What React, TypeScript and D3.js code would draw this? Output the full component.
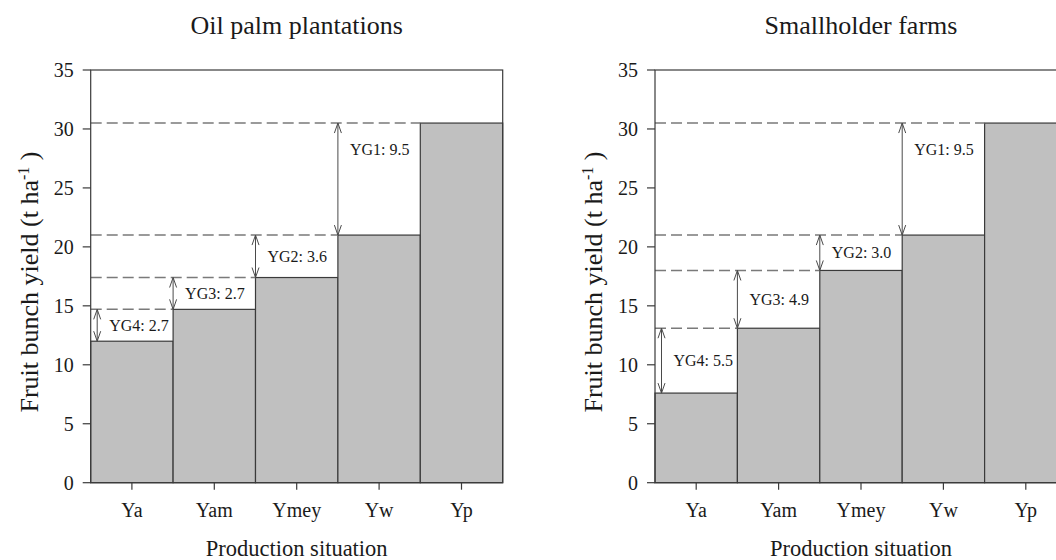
import React, { useEffect, useRef } from 'react';
import * as d3 from 'd3';

// production situations, lowest to highest
const categories = ['Ya', 'Yam', 'Ymey', 'Yw', 'Yp'];

// fruit bunch yield (t/ha) per situation
const plantationYield = [12.0, 14.7, 17.4, 21.0, 30.5];
const smallholderYield = [7.6, 13.1, 18.0, 21.0, 30.5];

// yield gap labels between neighbouring situations
const plantationGaps = ['YG4: 2.7', 'YG3: 2.7', 'YG2: 3.6', 'YG1: 9.5'];
const smallholderGaps = ['YG4: 5.5', 'YG3: 4.9', 'YG2: 3.0', 'YG1: 9.5'];

const yTicks = [0, 5, 10, 15, 20, 25, 30, 35];

const panelTitles = ['Oil palm plantations', 'Smallholder farms'];
const xTitle = 'Production situation';

const W = 1056;
const H = 560;
const font = '"Liberation Serif", "Times New Roman", serif';

function drawPanel(svg: any, left: number, title: string, values: number[], gaps: string[]) {
  const top = 70;
  const bottom = 482.7;
  const size = 412;

  const x = d3.scaleBand().domain(categories).range([left, left + size]).padding(0);
  const y = d3.scaleLinear().domain([0, 35]).range([bottom, top]);

  const g = svg.append('g');

  // bars
  g.selectAll('.bar')
    .data(values)
    .enter()
    .append('rect')
    .attr('x', (d: number, i: number) => x(categories[i]))
    .attr('y', (d: number) => y(d))
    .attr('width', x.bandwidth())
    .attr('height', (d: number) => bottom - y(d))
    .attr('fill', '#c0c0c0')
    .attr('stroke', '#3a3a3a')
    .attr('stroke-width', 1.2);

  // dashed guide at each higher level, from axis to the bar that reaches it
  g.selectAll('.guide')
    .data(values.slice(1))
    .enter()
    .append('line')
    .attr('x1', left)
    .attr('x2', (d: number, i: number) => x(categories[i + 1]))
    .attr('y1', (d: number) => y(d))
    .attr('y2', (d: number) => y(d))
    .attr('stroke', '#7a7a7a')
    .attr('stroke-width', 1.5)
    .attr('stroke-dasharray', '11,5');

  // double headed gap arrows + labels
  gaps.forEach((label, i) => {
    const ax = i === 0 ? left + 6.5 : (x(categories[i]) as number);
    const y0 = y(values[i]);
    const y1 = y(values[i + 1]);
    g.append('line')
      .attr('x1', ax).attr('x2', ax)
      .attr('y1', y1).attr('y2', y0)
      .attr('stroke', '#4a4a4a')
      .attr('stroke-width', 1);
    g.append('path')
      .attr('d', `M${ax - 3.5},${y1 + 10}L${ax},${y1}L${ax + 3.5},${y1 + 10}`)
      .attr('fill', 'none').attr('stroke', '#4a4a4a').attr('stroke-width', 1);
    g.append('path')
      .attr('d', `M${ax - 3.5},${y0 - 10}L${ax},${y0}L${ax + 3.5},${y0 - 10}`)
      .attr('fill', 'none').attr('stroke', '#4a4a4a').attr('stroke-width', 1);

    const big = values[i + 1] - values[i] > 6;
    const ly = big ? y1 + 26 : (y0 + y1) / 2;
    g.append('text')
      .attr('x', ax + 12)
      .attr('y', ly)
      .attr('dy', '0.35em')
      .attr('font-family', font)
      .attr('font-size', 16)
      .attr('fill', '#1a1a1a')
      .text(label);
  });

  // frame
  g.append('rect')
    .attr('x', left).attr('y', top)
    .attr('width', size).attr('height', bottom - top)
    .attr('fill', 'none')
    .attr('stroke', '#3a3a3a')
    .attr('stroke-width', 1.2);

  // y ticks
  g.selectAll('.ytick')
    .data(yTicks)
    .enter()
    .append('line')
    .attr('x1', left - 8).attr('x2', left)
    .attr('y1', (d: number) => y(d)).attr('y2', (d: number) => y(d))
    .attr('stroke', '#3a3a3a').attr('stroke-width', 1.2);
  g.selectAll('.ylab')
    .data(yTicks)
    .enter()
    .append('text')
    .attr('x', left - 17)
    .attr('y', (d: number) => y(d))
    .attr('dy', '0.35em')
    .attr('text-anchor', 'end')
    .attr('font-family', font)
    .attr('font-size', 20)
    .attr('fill', '#1a1a1a')
    .text((d: number) => d);

  // x ticks
  g.selectAll('.xtick')
    .data(categories)
    .enter()
    .append('line')
    .attr('x1', (d: string) => (x(d) as number) + x.bandwidth() / 2)
    .attr('x2', (d: string) => (x(d) as number) + x.bandwidth() / 2)
    .attr('y1', bottom).attr('y2', bottom + 7)
    .attr('stroke', '#3a3a3a').attr('stroke-width', 1.2);
  g.selectAll('.xlab')
    .data(categories)
    .enter()
    .append('text')
    .attr('x', (d: string) => (x(d) as number) + x.bandwidth() / 2)
    .attr('y', 517)
    .attr('text-anchor', 'middle')
    .attr('font-family', font)
    .attr('font-size', 20)
    .attr('fill', '#1a1a1a')
    .text((d: string) => d);

  // titles
  g.append('text')
    .attr('x', left + size / 2).attr('y', 34)
    .attr('text-anchor', 'middle')
    .attr('font-family', font).attr('font-size', 26).attr('fill', '#1a1a1a')
    .text(title);
  g.append('text')
    .attr('x', left + size / 2).attr('y', 556)
    .attr('text-anchor', 'middle')
    .attr('font-family', font).attr('font-size', 22.5).attr('fill', '#1a1a1a')
    .text(xTitle);

  const yt = g.append('text')
    .attr('transform', `translate(${left - 53},282) rotate(-90)`)
    .attr('text-anchor', 'middle')
    .attr('font-family', font).attr('font-size', 26).attr('fill', '#1a1a1a');
  yt.append('tspan').text('Fruit bunch yield (t ha');
  yt.append('tspan').attr('dy', -9).attr('font-size', 16).text('-1');
  yt.append('tspan').attr('dy', 9).text(' )');
}

export default function App() {
  const ref = useRef<SVGSVGElement>(null);

  useEffect(() => {
    const svg = d3.select(ref.current);
    svg.selectAll('*').remove();
    drawPanel(svg, 90.7, panelTitles[0], plantationYield, plantationGaps);
    drawPanel(svg, 655, panelTitles[1], smallholderYield, smallholderGaps);
  }, []);

  return (
    <div style={{ position: 'absolute', left: 0, top: 0 }}>
      <svg ref={ref} width={W} height={H} style={{ display: 'block', background: '#fff' }} />
    </div>
  );
}
